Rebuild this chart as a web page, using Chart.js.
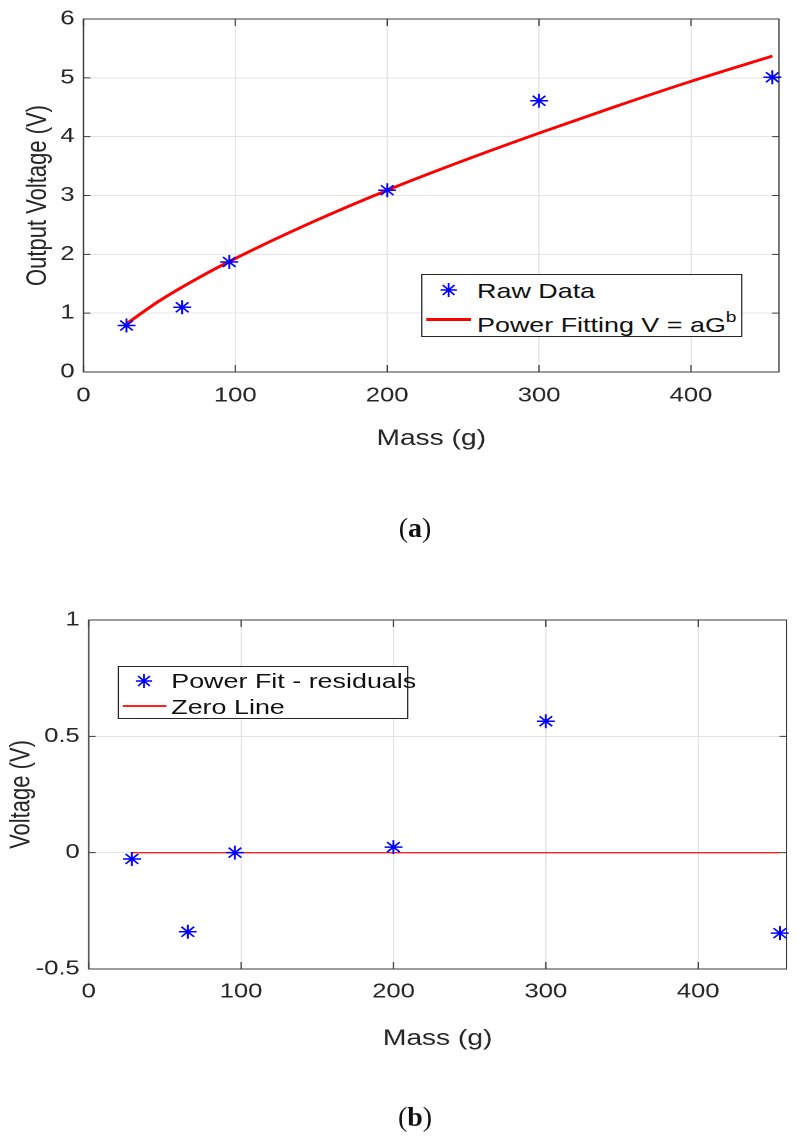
<!DOCTYPE html>
<html><head><meta charset="utf-8">
<script src="https://cdn.jsdelivr.net/npm/chart.js@4.4.1/dist/chart.umd.min.js"></script>
<style>
html,body{margin:0;padding:0;background:#fff;width:798px;height:1138px;overflow:hidden;}
#stage{position:absolute;left:0;top:0;width:623px;height:1138px;transform:scaleX(1.28);transform-origin:0 0;}
#stage canvas{position:absolute;left:0;}
.legend{position:absolute;box-sizing:border-box;border:1px solid #262626;background:#fff;font-family:"Liberation Sans",Arial,sans-serif;font-size:21px;color:#111;}
.legend .t{position:absolute;line-height:21px;white-space:nowrap;}
.legend svg{position:absolute;}
.caption{position:absolute;font-family:"Liberation Serif","Times New Roman",serif;font-size:28px;line-height:28px;color:#111;width:100px;text-align:center;}
</style></head><body>
<div id="stage">
  <canvas id="c1" width="623" height="470" style="top:0"></canvas>
  <canvas id="c2" width="623" height="520" style="top:560px"></canvas>
  <div class="legend" id="lg1" style="left:328.7px;top:274.3px;width:251.2px;height:63px">
    <svg width="13" height="16" style="left:14.6px;top:6.7px"><g stroke="#0000ff" stroke-width="1.4" fill="none"><path d="M0 8H13M6.5 1V15M1.9 3L11.1 13M11.1 3L1.9 13"/></g></svg>
    <div class="t" id="lg1a" style="left:43px;top:4.4px"></div>
    <div style="position:absolute;left:3.1px;top:42.8px;width:35.7px;height:2.6px;background:#ff0000"></div>
    <div class="t" id="lg1b" style="left:43px;top:38.4px"></div>
  </div>
  <div class="legend" id="lg2" style="left:91.6px;top:665.7px;width:227.4px;height:53.3px">
    <svg width="13" height="16" style="left:13.6px;top:6px"><g stroke="#0000ff" stroke-width="1.4" fill="none"><path d="M0 8H13M6.5 1V15M1.9 3L11.1 13M11.1 3L1.9 13"/></g></svg>
    <div class="t" id="lg2a" style="left:41.2px;top:3.2px"></div>
    <div style="position:absolute;left:3.3px;top:38.8px;width:34.3px;height:1.2px;background:#ff2020"></div>
    <div class="t" id="lg2b" style="left:41.2px;top:29.3px"></div>
  </div>
</div>
<div class="caption" style="left:365px;top:514px">(<b>a</b>)</div>
<div class="caption" style="left:365px;top:1103px">(<b>b</b>)</div>
<script>
// ---- data ----
const massRaw      = [28.35, 65, 96, 200, 300, 453.6];
const voltageRaw   = [0.79, 1.10, 1.87, 3.09, 4.61, 5.01];
const fitMass      = [28.35, 50, 75, 100, 150, 200, 250, 300, 350, 400, 453.6];
const fitVoltage   = [0.82, 1.21, 1.59, 1.93, 2.54, 3.09, 3.59, 4.06, 4.51, 4.94, 5.37];
const residualMass = [28.35, 65, 96, 200, 300, 453.6];
const residuals    = [-0.027, -0.34, 0.0, 0.024, 0.565, -0.346];
const zeroMass     = [28.35, 453.6];
const zeroValues   = [0, 0];
const labelsTop    = ['Raw Data', 'Power Fitting V = aG'];
const labelsBottom = ['Power Fit - residuals', 'Zero Line'];
const xRange = [0, 458], xStep = 100;
const yRangeTop = [0, 6], yStepTop = 1;
const yRangeBottom = [-0.5, 1], yStepBottom = 0.5;

document.getElementById('lg1a').textContent = labelsTop[0];
document.getElementById('lg1b').innerHTML = labelsTop[1] + '<span style="font-size:15px;position:relative;top:-10px">b</span>';
document.getElementById('lg2a').textContent = labelsBottom[0];
document.getElementById('lg2b').textContent = labelsBottom[1];

const pts = (xs, ys) => xs.map((x, i) => ({x, y: ys[i]}));
const SX = 1.28;
const TXT = '#262626';
Chart.defaults.font.family = '"Liberation Sans", Arial, sans-serif';
Chart.defaults.color = TXT;

const boxPlugin = {
  id: 'matlabBox',
  beforeDatasetsDraw(chart) {
    const {ctx, chartArea: a, scales: {x, y}} = chart;
    ctx.save();
    ctx.strokeStyle = '#3a3a3a';
    ctx.lineWidth = 1;
    ctx.beginPath();
    const tl = 7, tlx = 7 / SX;
    x.ticks.forEach(t => {
      const px = x.getPixelForValue(t.value);
      ctx.moveTo(px, a.bottom); ctx.lineTo(px, a.bottom - tl);
      ctx.moveTo(px, a.top); ctx.lineTo(px, a.top + tl);
    });
    y.ticks.forEach(t => {
      const py = y.getPixelForValue(t.value);
      ctx.moveTo(a.left, py); ctx.lineTo(a.left + tlx, py);
      ctx.moveTo(a.right, py); ctx.lineTo(a.right - tlx, py);
    });
    ctx.stroke();
    ctx.strokeRect(a.left, a.top, a.right - a.left, a.bottom - a.top);
    ctx.restore();
  }
};

function makeChart(id, datasets, cfg) {
  return new Chart(document.getElementById(id), {
    type: 'scatter',
    data: {datasets},
    plugins: [boxPlugin],
    options: {
      responsive: false,
      animation: false,
      devicePixelRatio: 2,
      layout: {padding: cfg.padding},
      plugins: {legend: {display: false}, tooltip: {enabled: false}},
      scales: {
        x: {
          type: 'linear', min: xRange[0], max: xRange[1],
          afterFit: s => { s.height = cfg.xHeight; },
          grid: {color: '#e4e4e4', drawTicks: false},
          border: {display: false},
          ticks: {stepSize: xStep, includeBounds: false, padding: cfg.xTickPad, font: {size: 20}, color: TXT,
                  callback: v => String(v)},
          title: {display: true, text: 'Mass (g)', font: {size: 22}, color: TXT, padding: {top: 0, bottom: cfg.xTitlePad}}
        },
        y: {
          type: 'linear', min: cfg.yRange[0], max: cfg.yRange[1],
          afterFit: s => { s.width = cfg.yWidth; },
          grid: {color: '#e4e4e4', drawTicks: false},
          border: {display: false},
          ticks: {stepSize: cfg.yStep, includeBounds: false, padding: 7, font: {size: 20}, color: TXT,
                  callback: v => String(Math.round(v * 100) / 100)},
          title: {display: true, text: cfg.yTitle, font: {size: 22}, color: TXT, padding: {top: cfg.yTitlePad, bottom: 0}}
        }
      }
    }
  });
}

makeChart('c1', [
  {label: labelsTop[0], data: pts(massRaw, voltageRaw), showLine: false, pointStyle: 'star',
   pointRadius: 7, borderColor: '#0000ff', backgroundColor: '#0000ff', pointBorderWidth: 1.5, clip: false},
  {label: labelsTop[1], data: pts(fitMass, fitVoltage), showLine: true, pointRadius: 0,
   borderColor: '#ff0000', borderWidth: 2.8, tension: 0.4, cubicInterpolationMode: 'monotone'}
], {padding: {left: 0, top: 17.5, right: 14.4, bottom: 0}, xHeight: 98, yWidth: 65.2, xTickPad: 12,
    yRange: yRangeTop, yStep: yStepTop, yTitle: 'Output Voltage (V)', yTitlePad: 16.5, xTitlePad: 18});

makeChart('c2', [
  {label: labelsBottom[0], data: pts(residualMass, residuals), showLine: false, pointStyle: 'star',
   pointRadius: 7, borderColor: '#0000ff', backgroundColor: '#0000ff', pointBorderWidth: 1.5, clip: false},
  {label: labelsBottom[1], data: pts(zeroMass, zeroValues), showLine: true, pointRadius: 0,
   borderColor: '#ff2020', borderWidth: 1.3}
], {padding: {left: 0, top: 60, right: 7.6, bottom: 0}, xHeight: 111, yWidth: 69.3, xTickPad: 11,
    yRange: yRangeBottom, yStep: yStepBottom, yTitle: 'Voltage (V)', yTitlePad: 3.8, xTitlePad: 27.8});
</script>
</body></html>
